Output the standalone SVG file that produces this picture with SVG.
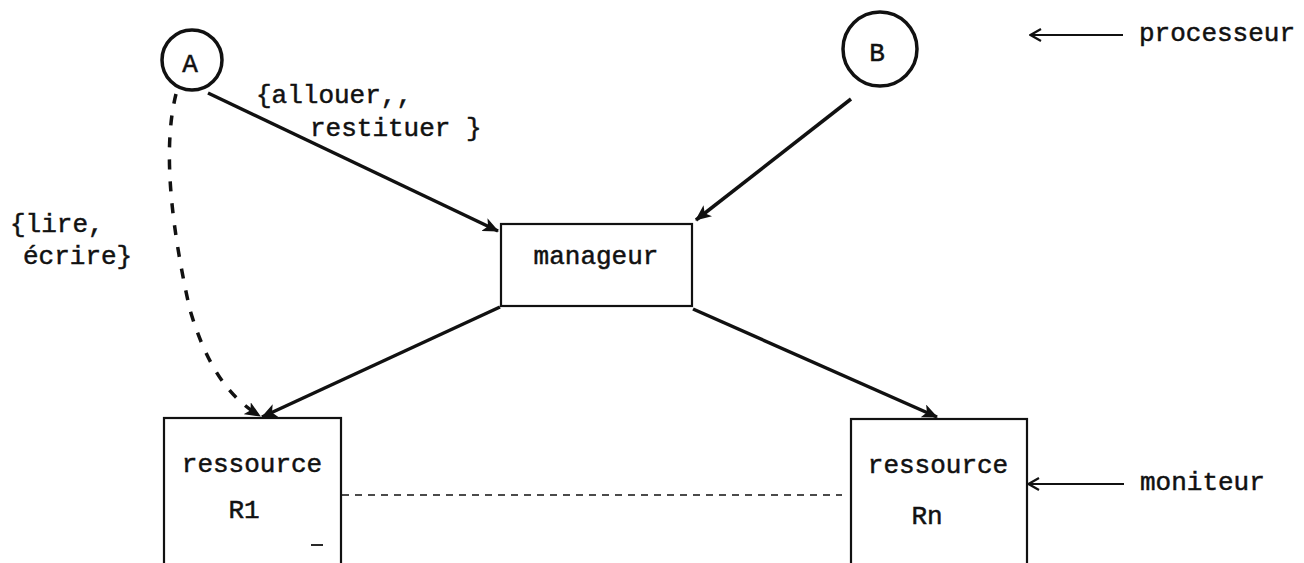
<svg xmlns="http://www.w3.org/2000/svg" width="1304" height="563" viewBox="0 0 1304 563">
  <style>
    .t { font-family: "Liberation Mono", "DejaVu Sans Mono", monospace; font-size: 26px; fill: #111; stroke: #111; stroke-width: 0.5; }
    .box { fill: none; stroke: #111; stroke-width: 2.2; }
    .circ { fill: none; stroke: #111; stroke-width: 3.5; }
    .edge { fill: none; stroke: #111; stroke-width: 3.5; }
    .dash { fill: none; stroke: #111; stroke-width: 3.5; stroke-dasharray: 10 12; }
    .thin { fill: none; stroke: #111; stroke-width: 1.8; }
    .thindash { fill: none; stroke: #111; stroke-width: 1.6; stroke-dasharray: 7 6; }
  </style>
  <defs>
    <marker id="head" viewBox="0 0 16 14" refX="15" refY="7" markerWidth="16" markerHeight="14" markerUnits="userSpaceOnUse" orient="auto">
      <path d="M0,0 L16,7 L0,14 L4,7 Z" fill="#111"/>
    </marker>
    <marker id="open" viewBox="0 0 14 14" refX="1" refY="7" markerWidth="14" markerHeight="14" markerUnits="userSpaceOnUse" orient="auto">
      <path d="M12,1 L1.5,7 L12,13" fill="none" stroke="#111" stroke-width="2.2"/>
    </marker>
  </defs>

  <!-- processors -->
  <g id="procA">
    <circle class="circ" cx="192" cy="60" r="30"/>
    <text class="t" x="190" y="72" text-anchor="middle" font-size="22">A</text>
  </g>
  <g id="procB">
    <circle class="circ" cx="880" cy="49" r="37"/>
    <text class="t" x="877" y="61" text-anchor="middle" font-size="22">B</text>
  </g>

  <!-- resource manager -->
  <g id="manageur">
    <rect class="box" x="501" y="224" width="191" height="82"/>
    <text class="t" x="596" y="264" text-anchor="middle">manageur</text>
  </g>

  <!-- monitors -->
  <g id="r1">
    <rect class="box" x="164" y="418" width="177" height="160"/>
    <text class="t" x="252" y="472" text-anchor="middle">ressource</text>
    <text class="t" x="244" y="518" text-anchor="middle">R1</text>
    <line class="thin" x1="311" y1="545" x2="323" y2="545"/>
  </g>
  <g id="rn">
    <rect class="box" x="851" y="419" width="176" height="160"/>
    <text class="t" x="938" y="473" text-anchor="middle">ressource</text>
    <text class="t" x="927" y="524" text-anchor="middle">Rn</text>
  </g>

  <!-- connectors -->
  <g id="connectors">
    <line class="edge" x1="208" y1="93" x2="498" y2="231" marker-end="url(#head)"/>
    <line class="edge" x1="851" y1="99" x2="696" y2="220" marker-end="url(#head)"/>
    <line class="edge" x1="500" y1="307" x2="262" y2="417" marker-end="url(#head)"/>
    <line class="edge" x1="693" y1="309" x2="937" y2="417" marker-end="url(#head)"/>
    <path class="dash" d="M176,94 C162,150 172,230 190,310 C205,360 225,395 260,416" marker-end="url(#head)"/>
    <line class="thindash" x1="342" y1="495" x2="842" y2="495"/>
    <line class="thin" x1="1030" y1="35" x2="1123" y2="35" marker-start="url(#open)"/>
    <line class="thin" x1="1028" y1="484" x2="1124" y2="484" marker-start="url(#open)"/>
  </g>

  <!-- labels -->
  <g id="labels">
    <text class="t" x="256" y="103">{allouer,,</text>
    <text class="t" x="310" y="136">restituer }</text>
    <text class="t" x="10" y="232">{lire,</text>
    <text class="t" x="23" y="264">écrire}</text>
    <text class="t" x="1139" y="41">processeur</text>
    <text class="t" x="1140" y="490">moniteur</text>
  </g>
</svg>
